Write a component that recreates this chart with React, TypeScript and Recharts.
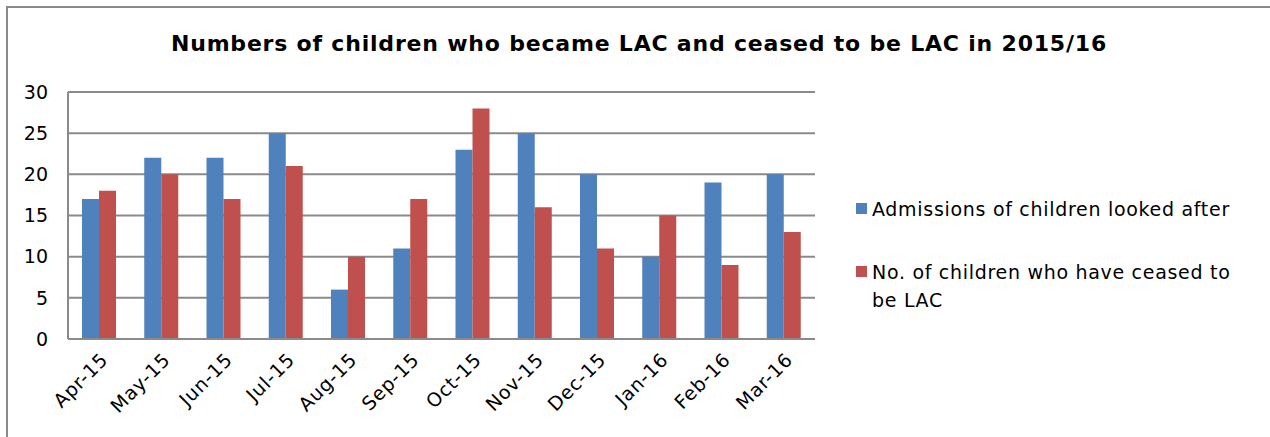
import React from "react";
import { BarChart, Bar, XAxis, YAxis, CartesianGrid } from "recharts";

const months = ["Apr-15", "May-15", "Jun-15", "Jul-15", "Aug-15", "Sep-15", "Oct-15", "Nov-15", "Dec-15", "Jan-16", "Feb-16", "Mar-16"];
const admissions = [17, 22, 22, 25, 6, 11, 23, 25, 20, 10, 19, 20];
const ceased = [18, 20, 17, 21, 10, 17, 28, 16, 11, 15, 9, 13];
const yTicks = [0, 5, 10, 15, 20, 25, 30];

const BLUE = "#4F81BD";
const RED = "#C0504D";
const FONT = "'DejaVu Sans', sans-serif";

const data = months.map((m, i) => ({ month: m, admissions: admissions[i], ceased: ceased[i] }));

const MonthTick = (props: any) => {
  const { x, y, payload } = props;
  return (
    <g transform={`translate(${x + 10},${y + 14})`}>
      <text textAnchor="end" transform="rotate(-45)" fontSize={19} letterSpacing={0.8} fill="#000" fontFamily={FONT}>
        {payload.value}
      </text>
    </g>
  );
};

const legendItems = [
  { color: BLUE, lines: ["Admissions of children looked after"] },
  { color: RED, lines: ["No. of children who have ceased to", "be LAC"] },
];

export default function App() {
  return (
    <div style={{ position: "absolute", left: 0, top: 0, width: 1270, height: 437, background: "#fff", fontFamily: FONT }}>
      <div style={{ position: "absolute", left: 6, top: 6, width: 1264, height: 431, borderTop: "2px solid #8a8a8a", borderLeft: "2px solid #8a8a8a", boxSizing: "border-box" }} />
      <div style={{ position: "absolute", left: 0, top: 31, width: 1278, textAlign: "center", fontSize: 22, letterSpacing: 0.8, fontWeight: "bold", color: "#000" }}>
        Numbers of children who became LAC and ceased to be LAC in 2015/16
      </div>
      <div style={{ position: "absolute", left: 0, top: 0 }}>
        <BarChart width={1270} height={437} data={data} margin={{ top: 92, right: 455, bottom: 0, left: 0 }} barGap={0} barCategoryGap={14}>
          <CartesianGrid vertical={false} stroke="#8a8a8a" strokeWidth={2} />
          <YAxis
            width={68}
            domain={[0, 30]}
            ticks={yTicks}
            interval={0}
            tickLine={false}
            axisLine={{ stroke: "#8a8a8a", strokeWidth: 2 }}
            tick={{ fontSize: 19, fill: "#000", fontFamily: FONT }}
            tickMargin={14}
          />
          <XAxis
            dataKey="month"
            height={98}
            interval={0}
            tickLine={false}
            axisLine={{ stroke: "#8a8a8a", strokeWidth: 2 }}
            tick={<MonthTick />}
          />
          <Bar dataKey="admissions" fill={BLUE} isAnimationActive={false} />
          <Bar dataKey="ceased" fill={RED} isAnimationActive={false} />
        </BarChart>
      </div>
      {legendItems.map((item, i) => (
        <div key={i} style={{ position: "absolute", left: 856, top: i === 0 ? 195 : 258, fontSize: 19, letterSpacing: 0.7, lineHeight: "28px", color: "#000" }}>
          <span style={{ position: "absolute", left: 0, top: 8, width: 11, height: 11, background: item.color }} />
          {item.lines.map((l, j) => (
            <div key={j} style={{ paddingLeft: 16, whiteSpace: "nowrap" }}>{l}</div>
          ))}
        </div>
      ))}
    </div>
  );
}
